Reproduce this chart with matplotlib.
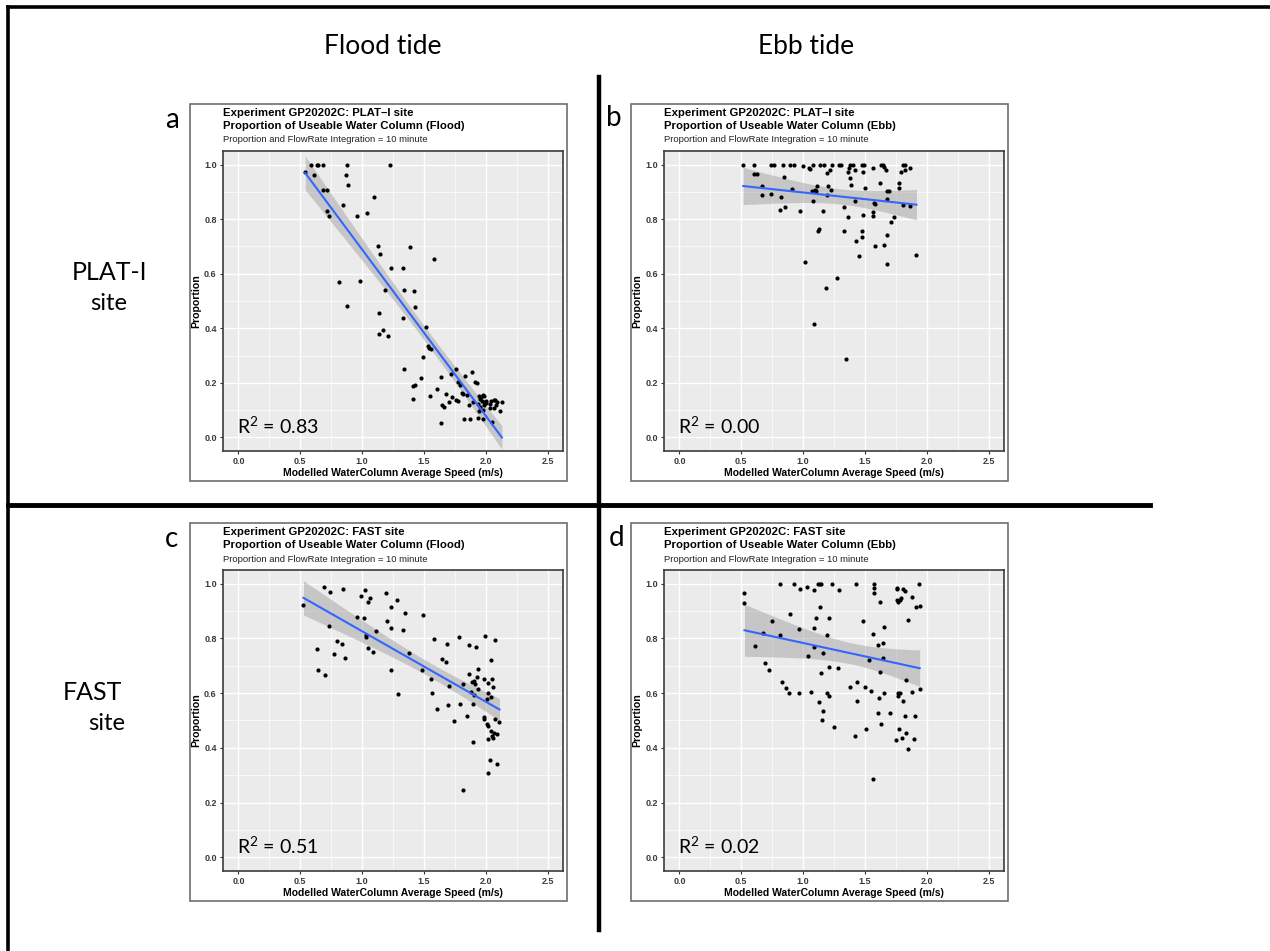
import numpy as np
import matplotlib
matplotlib.use("Agg")
import matplotlib.pyplot as plt
from matplotlib.patches import Rectangle
from matplotlib.lines import Line2D

# ---------------- data ----------------
a_x = [0.54, 0.586, 0.634, 0.645, 0.68, 0.875, 1.223, 0.61, 0.867, 0.883, 0.686, 0.718,
       1.093, 0.845, 0.713, 0.734, 0.961, 1.042, 1.128, 1.388, 1.142, 1.579, 1.231, 1.334,
       0.815, 0.983, 1.182, 1.339, 1.423, 1.139, 1.428, 0.880, 1.328, 1.172, 1.134, 1.209,
       1.517, 1.531, 1.545, 1.555, 1.490, 1.339, 1.415, 1.426, 1.409, 1.474, 1.550, 1.639,
       1.609, 1.649, 1.663, 1.641, 1.677, 1.706, 1.731, 1.763, 1.779, 1.722, 1.763, 1.776,
       1.795, 1.836, 1.887, 1.914, 1.927, 1.806, 1.82, 1.852, 1.863, 1.825, 1.874, 1.936,
       1.898, 1.939, 1.949, 1.963, 1.976, 1.987, 1.952, 1.968, 1.982, 1.955, 1.974, 1.987,
       2.003, 1.947, 1.979, 2.033, 2.046, 2.063, 2.076, 2.090, 2.084, 2.038, 2.117, 2.131,
       2.052, 2.003, 2.069]
a_y = [0.973, 1.0, 1.0, 1.0, 1.0, 1.0, 1.0, 0.961, 0.962, 0.926, 0.908, 0.907,
       0.883, 0.853, 0.829, 0.813, 0.813, 0.824, 0.701, 0.697, 0.674, 0.655, 0.621, 0.620,
       0.568, 0.572, 0.541, 0.541, 0.535, 0.455, 0.478, 0.481, 0.438, 0.392, 0.380, 0.373,
       0.404, 0.335, 0.328, 0.325, 0.295, 0.250, 0.188, 0.191, 0.142, 0.217, 0.150, 0.222,
       0.177, 0.117, 0.110, 0.052, 0.158, 0.129, 0.149, 0.137, 0.132, 0.234, 0.249, 0.204,
       0.191, 0.225, 0.239, 0.204, 0.198, 0.161, 0.160, 0.155, 0.118, 0.066, 0.068, 0.072,
       0.129, 0.123, 0.153, 0.147, 0.155, 0.153, 0.141, 0.135, 0.131, 0.110, 0.102, 0.117,
       0.125, 0.095, 0.068, 0.107, 0.135, 0.138, 0.138, 0.131, 0.117, 0.124, 0.095, 0.131,
       0.056, 0.132, 0.107]

b_x = [0.516, 0.599, 0.737, 0.763, 0.839, 0.892, 0.930, 1.081, 1.140, 1.167, 1.234, 1.290,
       1.306, 1.379, 1.406, 1.473, 1.492, 1.632, 1.645, 1.812, 1.828,
       1.0, 1.046, 1.054, 1.215, 1.191, 1.368, 1.417, 1.360, 1.484, 1.565, 1.653, 1.667,
       1.793, 1.828, 1.866, 0.605, 0.624, 0.849, 1.376, 1.387,
       0.667, 0.669, 0.737, 0.914, 1.07, 1.094, 1.113, 1.199, 1.226, 1.194, 1.108, 1.503,
       1.626, 1.677, 1.694, 1.772, 1.774,
       0.820, 1.081, 1.422, 1.570, 1.581, 1.677, 1.806, 1.868,
       0.815, 0.852, 0.973, 1.161, 1.331, 1.360, 1.487, 1.565, 1.567, 1.739, 1.715,
       1.126, 1.124, 1.333, 1.473, 1.473, 1.427, 1.675, 1.583, 1.651,
       1.454, 1.917, 1.680, 1.016, 1.274, 1.185, 1.086, 1.349]
b_y = [1.0] * 21 + \
      [0.995, 0.989, 0.985, 0.979, 0.970, 0.989, 0.982, 0.972, 0.973, 0.989, 0.993, 0.982,
       0.973, 0.981, 0.989, 0.964, 0.967, 0.956, 0.950, 0.926,
       0.921, 0.888, 0.893, 0.911, 0.905, 0.908, 0.921, 0.920, 0.908, 0.890, 0.903, 0.915,
       0.933, 0.905, 0.903, 0.932, 0.914,
       0.881, 0.868, 0.865, 0.860, 0.857, 0.875, 0.853, 0.847,
       0.835, 0.843, 0.829, 0.830, 0.845, 0.808, 0.814, 0.828, 0.811, 0.807, 0.788,
       0.765, 0.755, 0.758, 0.756, 0.733, 0.721, 0.743, 0.703, 0.704,
       0.665, 0.667, 0.635, 0.642, 0.586, 0.547, 0.417, 0.286]

c_x = [0.526, 0.694, 0.737, 0.842, 1.020, 0.991, 1.066, 1.050, 1.196, 1.280, 1.234, 0.956,
       1.015, 1.204, 1.347, 1.496, 0.729, 1.231, 1.112, 1.334, 1.034, 1.031, 0.796, 0.834,
       0.770, 0.861, 0.632, 1.048, 1.091, 1.377, 0.645, 0.697, 1.231, 1.288, 1.585, 1.688,
       1.780, 1.865, 1.920, 1.993, 2.079, 1.644, 1.679, 1.488, 1.555, 1.701, 1.566, 1.609,
       1.696, 1.744, 1.793, 1.815, 1.847, 1.868, 1.890, 1.906, 1.917, 1.930, 1.935, 1.935,
       1.906, 1.901, 1.879, 1.985, 2.020, 2.050, 2.045, 2.056, 2.010, 2.015, 2.042, 1.982,
       1.990, 2.007, 2.015, 2.079, 2.111, 2.045, 2.063, 2.050, 2.061, 2.091, 2.015, 1.901,
       2.031, 2.092, 2.020, 1.815]
c_y = [0.921, 0.987, 0.970, 0.982, 0.976, 0.954, 0.947, 0.934, 0.965, 0.942, 0.913, 0.880,
       0.875, 0.864, 0.893, 0.887, 0.847, 0.837, 0.826, 0.829, 0.811, 0.806, 0.792, 0.778,
       0.744, 0.729, 0.760, 0.766, 0.751, 0.745, 0.686, 0.665, 0.686, 0.598, 0.797, 0.778,
       0.806, 0.777, 0.767, 0.808, 0.796, 0.723, 0.715, 0.683, 0.652, 0.626, 0.602, 0.541,
       0.557, 0.498, 0.559, 0.632, 0.515, 0.671, 0.641, 0.643, 0.632, 0.660, 0.687, 0.615,
       0.593, 0.559, 0.604, 0.650, 0.636, 0.650, 0.722, 0.623, 0.578, 0.602, 0.585, 0.511,
       0.506, 0.487, 0.481, 0.505, 0.493, 0.462, 0.456, 0.444, 0.437, 0.451, 0.433, 0.421,
       0.357, 0.342, 0.308, 0.245]

d_x = [0.526, 0.526, 0.811, 0.927, 0.978, 1.035, 1.092, 1.124, 1.137, 1.148, 1.237, 1.294,
       1.426, 1.571, 1.577, 1.577, 1.620, 1.757, 1.763, 1.809, 1.825, 1.760, 1.768, 1.782,
       1.795, 1.879, 1.935, 1.911, 1.943, 0.895, 1.140, 1.108, 1.210, 0.749, 0.970, 1.092,
       1.485, 0.677, 0.811, 1.191, 1.652, 1.849, 1.569, 1.606, 1.647, 0.612, 1.086, 1.159,
       1.040, 1.534, 1.647, 0.693, 0.728, 1.146, 1.208, 1.286, 1.620, 0.827, 0.860, 0.887,
       0.970, 1.062, 1.129, 1.162, 1.154, 1.191, 1.208, 1.248, 1.383, 1.437, 1.437, 1.423,
       1.504, 1.550, 1.617, 1.655, 1.604, 1.628, 1.706, 1.512, 1.768, 1.768, 1.784, 1.809,
       1.833, 1.879, 1.822, 1.903, 1.943, 1.779, 1.836, 1.749, 1.803, 1.900, 1.846, 1.569]
d_y = [0.967, 0.930, 1.0, 1.0, 0.981, 0.989, 0.977, 1.0, 1.0, 1.0, 0.998, 0.977,
       1.0, 1.0, 0.985, 0.967, 0.933, 0.979, 0.984, 0.981, 0.975, 0.941, 0.932, 0.942,
       0.949, 0.953, 1.0, 0.915, 0.920, 0.891, 0.915, 0.875, 0.873, 0.864, 0.835, 0.838,
       0.862, 0.821, 0.811, 0.811, 0.841, 0.867, 0.817, 0.776, 0.785, 0.771, 0.770, 0.748,
       0.735, 0.722, 0.730, 0.711, 0.686, 0.674, 0.697, 0.691, 0.677, 0.640, 0.620, 0.602,
       0.602, 0.603, 0.567, 0.533, 0.501, 0.602, 0.590, 0.476, 0.621, 0.642, 0.571, 0.444,
       0.623, 0.608, 0.581, 0.599, 0.527, 0.487, 0.527, 0.470, 0.602, 0.590, 0.602, 0.573,
       0.648, 0.605, 0.516, 0.515, 0.614, 0.470, 0.453, 0.430, 0.435, 0.432, 0.395, 0.286]

r2_labels = ["0.83", "0.00", "0.51", "0.02"]
site_names = ["PLAT\u2013I", "PLAT\u2013I", "FAST", "FAST"]
tide_names = ["Flood", "Ebb", "Flood", "Ebb"]
panel_letters = ["a", "b", "c", "d"]
column_titles = ["Flood tide", "Ebb tide"]
row_titles = ["PLAT-I", "FAST"]
x_ticks = [0.0, 0.5, 1.0, 1.5, 2.0, 2.5]
y_ticks = [0.0, 0.2, 0.4, 0.6, 0.8, 1.0]

# ---------------- layout helpers ----------------
plt.rcParams["mathtext.fontset"] = "custom"
plt.rcParams["mathtext.rm"] = "Lato"
plt.rcParams["mathtext.it"] = "Lato:italic"

W, H = 1270, 951
fig = plt.figure(figsize=(12.7, 9.51), dpi=100)
fig.patch.set_facecolor("white")


def fx(x):
    return x / W


def fy(y):
    return 1 - y / H


GG = "Liberation Sans"
CAL = "Lato"

# outer frame (top and left only visible)
fig.add_artist(Line2D([fx(8), fx(1270)], [fy(7), fy(7)], color="black", lw=2.6))
fig.add_artist(Line2D([fx(8), fx(8)], [fy(7), fy(951)], color="black", lw=2.6))
# dividers
fig.add_artist(Line2D([fx(8), fx(1150)], [fy(505), fy(505)], color="black", lw=3.5))
fig.add_artist(Line2D([fx(599), fx(599)], [fy(77), fy(930)], color="black", lw=3.2))

# panel geometry in pixels: plot-area left, top, right, bottom
plots = [(223, 151, 563, 451), (664, 151, 1004, 451),
         (223, 570, 563, 871), (664, 570, 1004, 871)]
boxes = [(190, 104, 567, 481), (631, 104, 1008, 481),
         (190, 523, 567, 901), (631, 523, 1008, 901)]
letter_pos = [(172, 128), (614, 126), (172, 547), (617, 546)]

datasets = [(a_x, a_y), (b_x, b_y), (c_x, c_y), (d_x, d_y)]

for i in range(4):
    bl, bt, br, bb = boxes[i]
    fig.add_artist(Rectangle((fx(bl), fy(bb)), fx(br - bl), (bb - bt) / H,
                             transform=fig.transFigure, facecolor="white",
                             edgecolor="#6e6e6e", lw=1.2, zorder=0))
    l, t, r, b = plots[i]
    ax = fig.add_axes([fx(l), fy(b), (r - l) / W, (b - t) / H])
    ax.set_facecolor("#EBEBEB")
    ax.set_xlim(-0.125, 2.625)
    ax.set_ylim(-0.05, 1.05)
    for v in np.arange(0.25, 2.6, 0.5):
        ax.axvline(v, color="white", lw=0.5, zorder=0)
    for v in np.arange(0.1, 1.0, 0.2):
        ax.axhline(v, color="white", lw=0.5, zorder=0)
    for v in x_ticks:
        ax.axvline(v, color="white", lw=1.0, zorder=0)
    for v in y_ticks:
        ax.axhline(v, color="white", lw=1.0, zorder=0)
    ax.set_xticks(x_ticks)
    ax.set_xticklabels([f"{v:.1f}" for v in x_ticks])
    ax.set_yticks(y_ticks)
    ax.set_yticklabels([f"{v:.1f}" for v in y_ticks])
    ax.tick_params(length=2.5, width=0.8, color="#333333", labelsize=6.5,
                   labelcolor="#3a3a3a", pad=2)
    for lab in ax.get_xticklabels() + ax.get_yticklabels():
        lab.set_fontweight("bold")
        lab.set_family(GG)
    for s in ax.spines.values():
        s.set_color("#3c3c3c")
        s.set_linewidth(1.2)

    xs = np.array(datasets[i][0])
    ys = np.array(datasets[i][1])
    # linear fit with 95% confidence band (as geom_smooth(method = "lm"))
    slope, icpt = np.polyfit(xs, ys, 1)
    n = len(xs)
    resid = ys - (icpt + slope * xs)
    s_err = np.sqrt(np.sum(resid ** 2) / (n - 2))
    xg = np.linspace(xs.min(), xs.max(), 80)
    yg = icpt + slope * xg
    se = s_err * np.sqrt(1.0 / n + (xg - xs.mean()) ** 2 / np.sum((xs - xs.mean()) ** 2))
    tq = 1.987
    ax.fill_between(xg, yg - tq * se, yg + tq * se, color="#999999", alpha=0.45,
                    lw=0, zorder=2)
    ax.scatter(xs, ys, s=9, color="black", lw=0, zorder=3)
    ax.plot(xg, yg, color="#3366FF", lw=1.5, zorder=4)

    ax.text(0.042, 0.083, "R$^\\mathregular{2}$ = " + r2_labels[i], transform=ax.transAxes,
            family=CAL, fontsize=14, va="center", ha="left", color="black", zorder=5)

    ax.set_xlabel("Modelled WaterColumn Average Speed (m/s)", family=GG,
                  fontweight="bold", fontsize=7.5, labelpad=1)
    ax.set_ylabel("Proportion", family=GG, fontweight="bold", fontsize=7.6, labelpad=2)

    fig.text(fx(l), fy(t - 38), f"Experiment GP20202C: {site_names[i]} site",
             family=GG, fontweight="bold", fontsize=8.2, va="center", ha="left")
    fig.text(fx(l), fy(t - 25.5), f"Proportion of Useable Water Column ({tide_names[i]})",
             family=GG, fontweight="bold", fontsize=8.2, va="center", ha="left")
    fig.text(fx(l), fy(t - 11), "Proportion and FlowRate Integration = 10 minute",
             family=GG, fontsize=6.8, va="center", ha="left", color="#222222")

    lx, ly = letter_pos[i]
    fig.text(fx(lx), fy(ly), panel_letters[i], family=CAL, fontsize=20,
             ha="center", va="baseline")

fig.text(fx(383), fy(47), column_titles[0], family=CAL, fontsize=19, ha="center", va="center")
fig.text(fx(806), fy(47), column_titles[1], family=CAL, fontsize=19, ha="center", va="center")
fig.text(fx(109), fy(273), row_titles[0], family=CAL, fontsize=18, ha="center", va="center")
fig.text(fx(109), fy(304), "site", family=CAL, fontsize=17, ha="center", va="center")
fig.text(fx(92), fy(693), row_titles[1], family=CAL, fontsize=18, ha="center", va="center")
fig.text(fx(107), fy(723), "site", family=CAL, fontsize=17, ha="center", va="center")

fig.savefig("out.png", dpi=100, facecolor="white")
